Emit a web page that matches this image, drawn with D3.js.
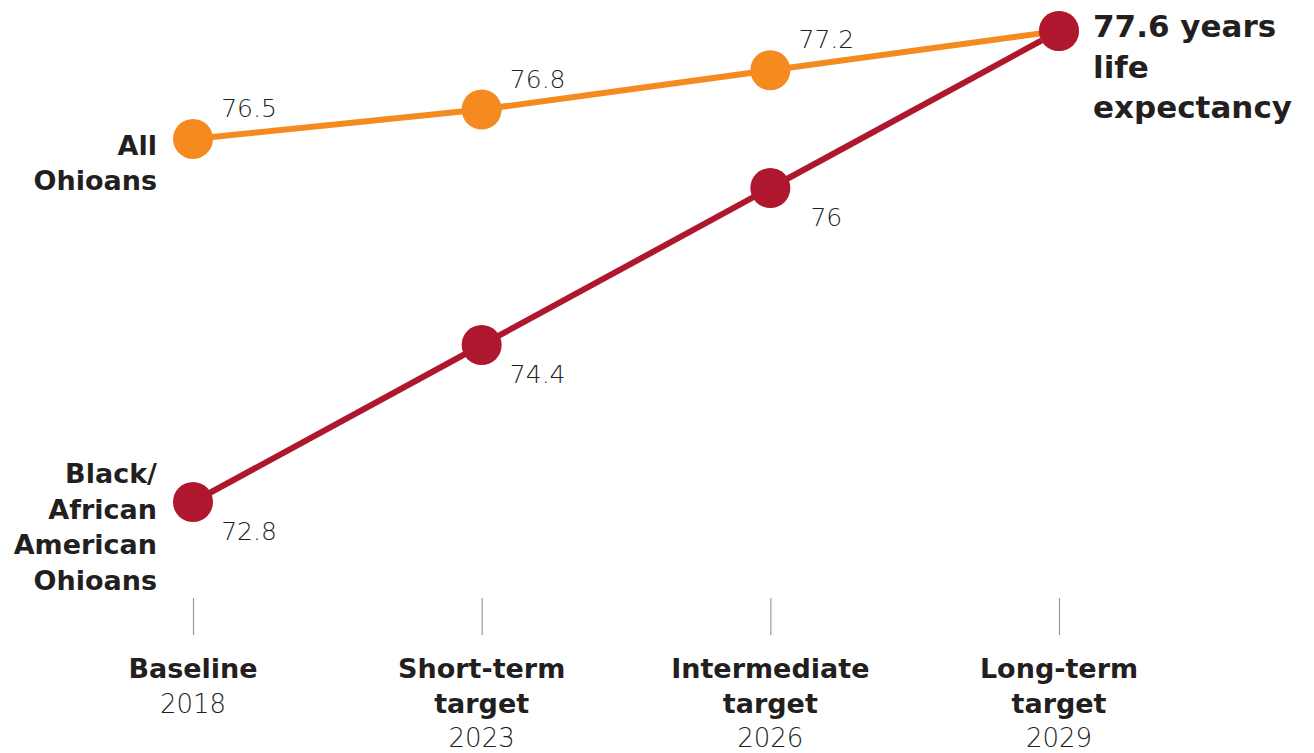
<!DOCTYPE html>
<html>
<head>
<meta charset="utf-8">
<script src="https://cdn.jsdelivr.net/npm/d3@7"></script>
<style>
  body { margin: 0; background: #fff; }
  svg text { fill: #231f20; }
  .bold { font-family: "DejaVu Sans", sans-serif; font-weight: 700; }
  .light { font-family: "DejaVu Sans", sans-serif; font-weight: 200; }
</style>
</head>
<body>
<svg id="drawing_region"></svg>
<script>
// stages along the x axis
const stages = ["Baseline", "Short-term target", "Intermediate target", "Long-term target"];
const stageLines = [["Baseline"], ["Short-term", "target"], ["Intermediate", "target"], ["Long-term", "target"]];
const years = ["2018", "2023", "2026", "2029"];

// life expectancy values
const allOhioans = [76.5, 76.8, 77.2, 77.6];
const blackOhioans = [72.8, 74.4, 76.0, 77.6];

const seriesNames = [["All", "Ohioans"], ["Black/", "African", "American", "Ohioans"]];
const seriesColors = ["#f58a20", "#ae172e"];
const endLabel = ["77.6 years", "life", "expectancy"];

const config = {
    width: 1314,
    height: 753
};

const svg = d3.select('#drawing_region')
    .attr('width', config.width)
    .attr('height', config.height);

const series = [
    { name: seriesNames[0], color: seriesColors[0], values: allOhioans, above: true },
    { name: seriesNames[1], color: seriesColors[1], values: blackOhioans, above: false }
];

const xscale = d3.scalePoint()
    .domain(stages)
    .range([193, 1059]);

const allValues = allOhioans.concat(blackOhioans);
const yscale = d3.scaleLinear()
    .domain(d3.extent(allValues))
    .range([502, 31]);

// x axis: short ticks and stage labels
const xaxis = d3.axisBottom(xscale).tickSize(37).tickFormat('');
const xaxis_group = svg.append('g')
    .attr('transform', 'translate(0, 598)')
    .call(xaxis);
xaxis_group.select('.domain').remove();
xaxis_group.selectAll('.tick line').attr('stroke', '#999').attr('stroke-width', 1.2);

stages.forEach((s, i) => {
    const t = svg.append('text')
        .attr('x', xscale(s))
        .attr('y', 678)
        .attr('text-anchor', 'middle')
        .attr('font-size', '27px');
    stageLines[i].forEach((l, j) => {
        t.append('tspan').attr('x', xscale(s)).attr('dy', j === 0 ? 0 : 34.5)
            .attr('class', 'bold').text(l);
    });
    t.append('tspan').attr('x', xscale(s)).attr('dy', 34.5)
        .attr('class', 'light').attr('font-size', '26px').text(years[i]);
});

const line = d3.line()
    .x((d, i) => xscale(stages[i]))
    .y(d => yscale(d));

series.forEach(s => {
    svg.append('path')
        .datum(s.values)
        .attr('d', line)
        .attr('fill', 'none')
        .attr('stroke', s.color)
        .attr('stroke-width', 6);
});

series.forEach(s => {
    svg.append('g').selectAll('circle')
        .data(s.values)
        .join('circle')
        .attr('cx', (d, i) => xscale(stages[i]))
        .attr('cy', d => yscale(d))
        .attr('r', 20)
        .attr('fill', s.color);

    // value labels, all but the last point
    svg.append('g').selectAll('text')
        .data(s.values.slice(0, -1))
        .join('text')
        .attr('class', 'light')
        .attr('x', (d, i) => xscale(stages[i]) + 56)
        .attr('y', d => yscale(d) + (s.above ? -22 : 38))
        .attr('text-anchor', 'middle')
        .attr('font-size', '25px')
        .text(d => d3.format('')(d));

    // series name at left
    const first = yscale(s.values[0]);
    const lh = 35.5;
    const top = s.above ? first + 16 : first - 19;
    const t = svg.append('text')
        .attr('class', 'bold')
        .attr('x', 157)
        .attr('y', top)
        .attr('text-anchor', 'end')
        .attr('font-size', '27px');
    s.name.forEach((l, j) => {
        t.append('tspan').attr('x', 157).attr('dy', j === 0 ? 0 : lh).text(l);
    });
});

// end annotation
const last = yscale(allOhioans[allOhioans.length - 1]);
const ann = svg.append('text')
    .attr('class', 'bold')
    .attr('x', 1093)
    .attr('y', last + 6)
    .attr('font-size', '31px');
endLabel.forEach((l, j) => {
    ann.append('tspan').attr('x', 1093).attr('dy', j === 0 ? 0 : 40.5).text(l);
});
</script>
</body>
</html>
